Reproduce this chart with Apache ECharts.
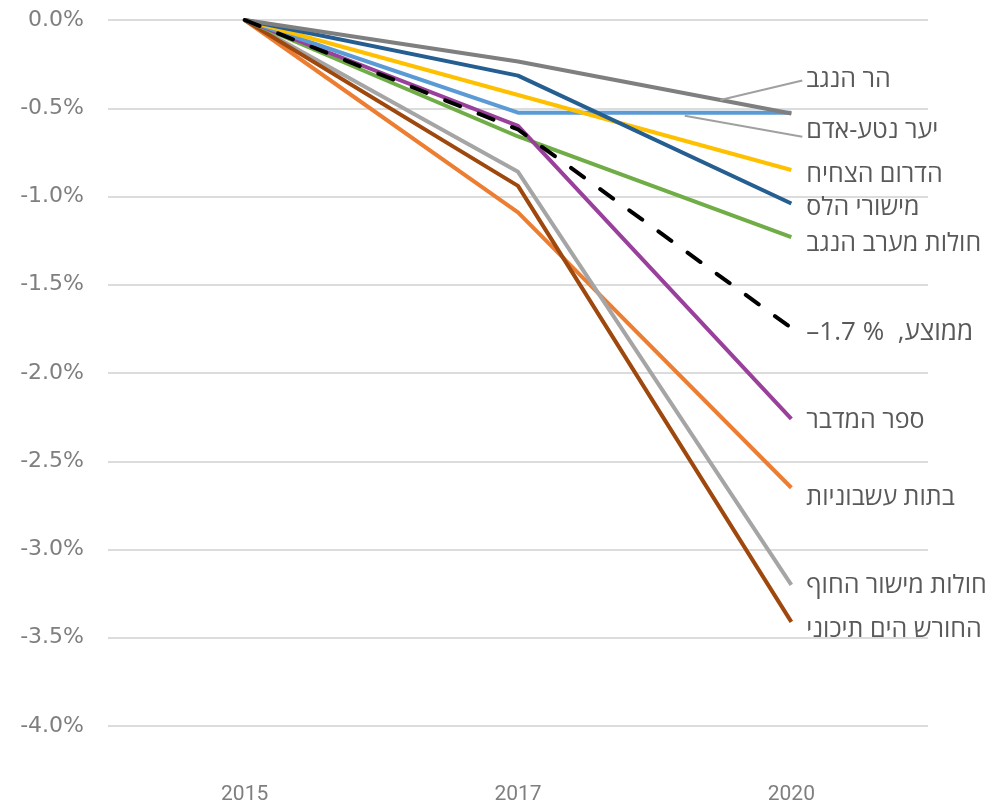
<!DOCTYPE html>
<html>
<head>
<meta charset="utf-8">
<script src="https://cdn.jsdelivr.net/npm/echarts@6/dist/echarts.min.js"></script>
<style>
  html, body { margin: 0; padding: 0; background: #fff; }
  #chart { width: 1001px; height: 809px; }
</style>
</head>
<body>
<div id="chart"></div>
<script>
// שינוי מצטבר לפי אזור, באחוזים
const years = ['2015', '2017', '2020'];
const yTicks = { min: -4, max: 0, step: 0.5 };

const regionNames = [
  'בתות עשבוניות',
  'חולות מישור החוף',
  'החורש הים תיכוני',
  'חולות מערב הנגב',
  'ספר המדבר',
  'יער נטע-אדם',
  'הדרום הצחיח',
  'מישורי הלס',
  'הר הנגב',
  'ממוצע',
];
const batotEsvoniyot = [0, -1.09, -2.65];
const holotMishorHahof = [0, -0.86, -3.2];
const hahoreshHayamTichoni = [0, -0.94, -3.41];
const holotMaaravHanegev = [0, -0.66, -1.23];
const sfarHamidbar = [0, -0.6, -2.26];
const yaarNetaAdam = [0, -0.525, -0.525];
const hadaromHatsahiah = [0, -0.425, -0.85];
const mishoreiHaless = [0, -0.315, -1.04];
const harHanegev = [0, -0.235, -0.53];
const average = [0, -0.62, -1.745];
const regionValues = [
  batotEsvoniyot, holotMishorHahof, hahoreshHayamTichoni, holotMaaravHanegev,
  sfarHamidbar, yaarNetaAdam, hadaromHatsahiah, mishoreiHaless, harHanegev, average,
];
// תווית הממוצע — סימני LRM שומרים על סדר התצוגה
const averageLabel = '\u2013' + '1.7 %\u200E  ,ממוצע';

// ── סגנון ─────────────────────────────────────────
const colors = {
  'בתות עשבוניות': '#ed7d31',
  'חולות מישור החוף': '#a5a5a5',
  'החורש הים תיכוני': '#9e480e',
  'חולות מערב הנגב': '#70ad47',
  'ספר המדבר': '#993f9c',
  'יער נטע-אדם': '#5b9bd5',
  'הדרום הצחיח': '#ffc000',
  'מישורי הלס': '#255e91',
  'הר הנגב': '#7f7f7f',
  'ממוצע': '#000000',
};
// הזזה אנכית של התווית מקצה הקו
const labelShift = {
  'בתות עשבוניות': 10,
  'חולות מישור החוף': 1,
  'החורש הים תיכוני': 8,
  'חולות מערב הנגב': 7,
  'ספר המדבר': 2,
  'יער נטע-אדם': 18,
  'הדרום הצחיח': 5,
  'מישורי הלס': 4,
  'הר הנגב': -34,
  'ממוצע': 5,
};
// קווי הפניה: t = מיקום יחסי על הקטע 2017→2020
const leaders = [
  { name: 'הר הנגב', t: 0.74, shift: 0, dx: 11, dy: -33 },
  { name: 'יער נטע-אדם', t: 0.61, shift: 3, dx: 11, dy: 24 },
];

const FONT = "'Open Sans', 'DejaVu Sans', sans-serif";
const AXIS_FONT = "'DejaVu Sans', sans-serif";
const axisGray = '#7f7f7f';
const textGray = '#595959';

const chart = echarts.init(document.getElementById('chart'));

const series = regionNames.map((name, i) => {
  const values = regionValues[i];
  const last = values.length - 1;
  const isAvg = name === 'ממוצע';
  return {
    name,
    type: 'line',
    data: values,
    showSymbol: false,
    symbol: 'none',
    silent: true,
    lineStyle: {
      color: colors[name],
      width: 4,
      type: isAvg ? [16, 20] : 'solid',
      cap: isAvg ? 'round' : 'butt',
    },
    z: isAvg ? 5 : 2,
    markPoint: {
      symbol: 'circle',
      symbolSize: 0,
      silent: true,
      data: [{
        coord: [last, values[last]],
        label: {
          show: true,
          position: 'right',
          distance: 15,
          offset: [0, labelShift[name]],
          formatter: () => (isAvg ? averageLabel : name),
          color: textGray,
          fontSize: isAvg ? 26 : 25,
          fontFamily: FONT,
        },
      }],
    },
  };
});

chart.setOption({
  animation: false,
  backgroundColor: '#fff',
  grid: { left: 108, right: 73, top: 20, bottom: 83, containLabel: false, outerBoundsMode: 'none' },
  xAxis: {
    type: 'category',
    data: years,
    boundaryGap: true,
    axisLine: { show: false },
    axisTick: { show: false },
    splitLine: { show: false },
    axisLabel: { margin: 58, fontSize: 21, color: axisGray, fontFamily: "Roboto, 'Noto Sans', sans-serif" },
  },
  yAxis: {
    type: 'value',
    min: yTicks.min,
    max: yTicks.max,
    interval: yTicks.step,
    axisLine: { show: false },
    axisTick: { show: false },
    axisLabel: {
      margin: 24,
      fontSize: 22,
      color: axisGray,
      fontFamily: AXIS_FONT,
      formatter: v => (v === 0 ? '0.0%' : v.toFixed(1) + '%'),
    },
    splitLine: { lineStyle: { color: '#dcdcdc', width: 2 } },
  },
  series,
});

// קווי הפניה לתוויות שצמודות זו לזו
const graphics = leaders.map(leader => {
  const idx = regionNames.indexOf(leader.name);
  const values = regionValues[idx];
  const a = chart.convertToPixel({ seriesIndex: idx }, [1, values[1]]);
  const b = chart.convertToPixel({ seriesIndex: idx }, [2, values[2]]);
  return {
    type: 'line',
    silent: true,
    z: 10,
    shape: {
      x1: a[0] + (b[0] - a[0]) * leader.t,
      y1: a[1] + (b[1] - a[1]) * leader.t + leader.shift,
      x2: b[0] + leader.dx,
      y2: b[1] + leader.dy,
    },
    style: { stroke: '#a0a0a0', lineWidth: 2 },
  };
});
chart.setOption({ graphic: graphics });
</script>
</body>
</html>
